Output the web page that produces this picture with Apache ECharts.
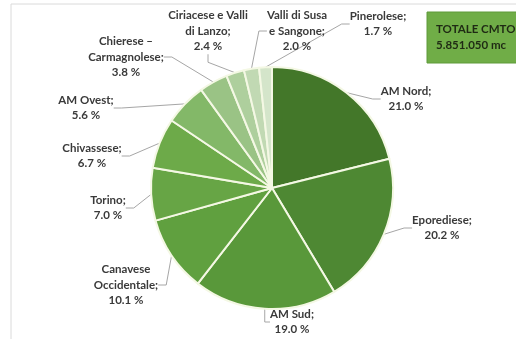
<html lang="it">
<head>
    <meta charset="UTF-8">
    <title>CMTO</title>
    <script src="https://cdn.jsdelivr.net/npm/echarts@6/dist/echarts.min.js"></script>
    <style>
        html, body { margin: 0; padding: 0; background: #fff; }
        #main { width: 516px; height: 339px; }
    </style>
</head>
<body>
    <div id="main"></div>
    <script>
        // zone, in senso orario da ore 12
        var zone = ['AM Nord', 'Eporediese', 'AM Sud', 'Canavese\nOccidentale', 'Torino', 'Chivassese',
            'AM Ovest', 'Chierese –\nCarmagnolese', 'Ciriacese e Valli\ndi Lanzo', 'Valli di Susa\ne Sangone', 'Pinerolese'];
        var quote = [21.0, 20.2, 19.0, 10.1, 7.0, 6.7, 5.6, 3.8, 2.4, 2.0, 1.7];
        var totale = ['TOTALE CMTO:', '5.851.050 mc'];

        var colori = ['#437729', '#4e8833', '#59983a', '#60a03f', '#67a545', '#6daa49',
            '#83b868', '#9ac385', '#aecf9d', '#c1d9b3', '#d4e5ca'];
        // posizione delle etichette (centro del testo)
        var posEtichette = [[406, 99], [442, 228], [292, 322], [126, 285], [108, 208], [92, 156],
            [86, 108], [126, 57], [208, 31], [297, 31], [378, 24]];

        var chart = echarts.init(document.getElementById('main'));
        var option = {
            backgroundColor: '#fff',
            animation: false,
            graphic: [{
                type: 'rect',
                shape: { x: 11, y: 4, width: 520, height: 345 },
                style: { fill: 'none', stroke: '#dadada', lineWidth: 1 }
            }, {
                type: 'rect',
                shape: { x: 427, y: 12, width: 100, height: 51 },
                style: { fill: '#70ad47', stroke: '#5f9a3a', lineWidth: 1 }
            }, {
                type: 'text',
                left: 436, top: 21,
                style: {
                    text: totale.join('\n'),
                    fill: '#1f2a14', font: 'bold 11.5px Lato', lineHeight: 16
                }
            }],
            series: [{
                type: 'pie',
                center: [272, 188],
                radius: 121,
                startAngle: 90,
                clockwise: true,
                color: colori,
                itemStyle: { borderColor: '#f4f8e4', borderWidth: 2 },
                data: zone.map(function (z, i) { return { name: z, value: quote[i] }; }),
                label: {
                    formatter: function (p) { return p.name + ';\n' + p.value.toFixed(1) + ' %'; },
                    fontFamily: 'Lato',
                    fontWeight: 'bold',
                    fontSize: 11.5,
                    lineHeight: 15.5,
                    color: '#3a3a3a',
                    align: 'center'
                },
                labelLine: {
                    show: true,
                    length: 8,
                    length2: 8,
                    lineStyle: { color: '#a6a6a6', width: 1 }
                },
                labelLayout: function (params) {
                    var p = posEtichette[params.dataIndex];
                    return { x: p[0], y: p[1], align: 'center', verticalAlign: 'middle' };
                }
            }]
        };
        chart.setOption(option);
    </script>
</body>
</html>
